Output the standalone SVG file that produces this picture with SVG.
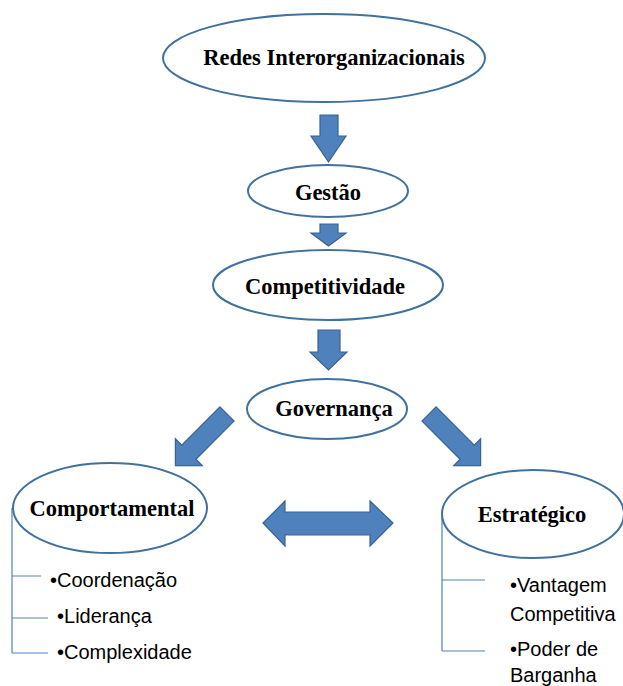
<svg xmlns="http://www.w3.org/2000/svg" width="623" height="686" viewBox="0 0 623 686">
<style>
.node ellipse{fill:#fff;stroke:#41719C;stroke-width:2}
.t{font-family:"Liberation Serif","Times New Roman",serif;font-weight:bold;font-size:22.5px;fill:#000;text-anchor:middle}
.arrow{fill:#4F81BD;stroke:#3A6291;stroke-width:1.2}
.tree{stroke:#4F81BD;stroke-width:1.2;fill:none}
.b{font-family:"Liberation Sans",Arial,sans-serif;font-size:20px;fill:#000}
</style>
<rect width="623" height="686" fill="#fff"/>
<g id="connectors">
<path class="arrow" d="M320,115 H338 V136 H346 L328.5,162 L311,136 H320 Z"/>
<path class="arrow" d="M320,224 H338 V233 H346 L328.5,246 L311,233 H320 Z"/>
<path class="arrow" d="M318,330 H340 V352 H347 L328.5,370 L310,352 H318 Z"/>
<path class="arrow" transform="translate(227,414) rotate(45)" d="M-10,0 H10 V54 H19 L0,73 L-19,54 H-10 Z"/>
<path class="arrow" transform="translate(429,414) rotate(-45)" d="M-10,0 H10 V54 H19 L0,73 L-19,54 H-10 Z"/>
<path class="arrow" d="M263,523 L285,501 V512 H370 V501 L393,523 L370,546 V535 H285 V546 Z"/>
<path class="tree" d="M12,508 V653 M12,576 H41 M12,618 H48 M12,653 H48"/>
<path class="tree" d="M442,515 V651 M442,580 H485 M442,651 H485"/>
</g>
<g id="redes" class="node"><ellipse cx="324" cy="58" rx="161" ry="44"/><text class="t" x="334" y="65">Redes Interorganizacionais</text></g>
<g id="gestao" class="node"><ellipse cx="328" cy="191" rx="80" ry="26"/><text class="t" x="328" y="200">Gestão</text></g>
<g id="competitividade" class="node"><ellipse cx="328" cy="285" rx="115" ry="35"/><text class="t" x="325" y="294">Competitividade</text></g>
<g id="governanca" class="node"><ellipse cx="327" cy="409" rx="80" ry="30"/><text class="t" x="334" y="416">Governança</text></g>
<g id="comportamental" class="node"><ellipse cx="110" cy="508" rx="97" ry="45"/><text class="t" x="112" y="516">Comportamental</text>
<text class="b" x="50" y="587">•Coordenação</text>
<text class="b" x="57" y="623">•Liderança</text>
<text class="b" x="57" y="659">•Complexidade</text></g>
<g id="estrategico" class="node"><ellipse cx="533" cy="514" rx="91" ry="44"/><text class="t" x="532" y="522">Estratégico</text>
<text class="b" x="510" y="592">•Vantagem</text>
<text class="b" x="510" y="621">Competitiva</text>
<text class="b" x="510" y="656">•Poder de</text>
<text class="b" x="510" y="682">Barganha</text></g>
</svg>
